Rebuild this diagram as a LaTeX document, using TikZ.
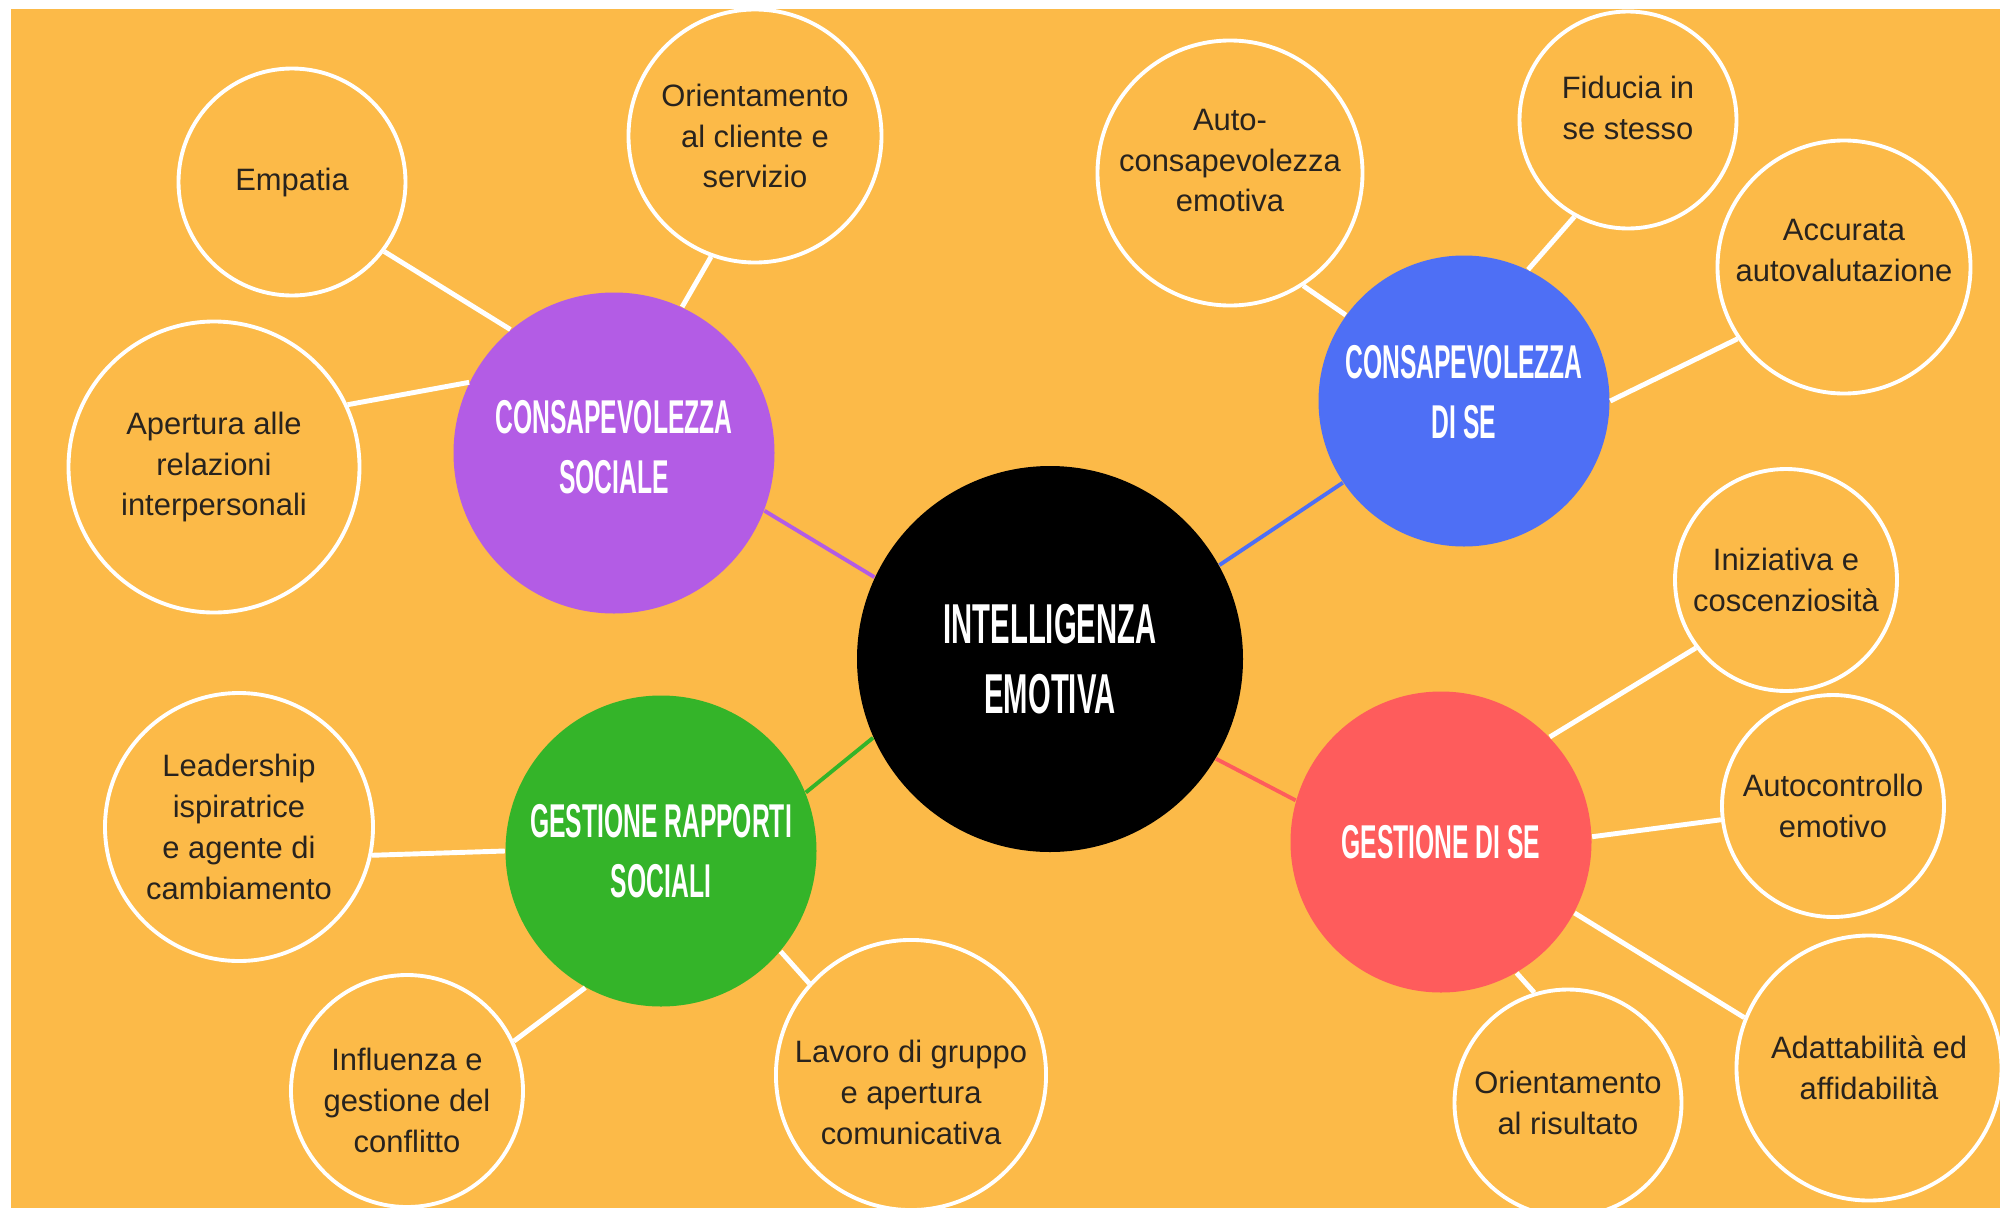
\documentclass[tikz,border=0pt]{standalone}
\usepackage{fontspec}
\setmainfont{Liberation Sans}
\newfontfamily\headfont{Liberation Sans Bold}[FakeStretch=0.52]
\usetikzlibrary{positioning}
\definecolor{bg}{RGB}{252,186,72}
\definecolor{viola}{RGB}{179,92,229}
\definecolor{blu}{RGB}{78,111,245}
\definecolor{verde}{RGB}{52,180,41}
\definecolor{rosso}{RGB}{254,92,92}
\definecolor{testo}{RGB}{40,35,30}
\newcommand\textlift[1]{\rule[-#1]{0pt}{#1}}
\newcommand\textdrop[1]{\rule{0pt}{#1}}

\begin{document}
\begin{tikzpicture}[font = \fontsize{8.8}{11.6}\selectfont,
    leaf/.style = {circle, draw = white, line width = 1.1pt, text = testo, align = center, inner sep = 0pt, minimum size = #1},
    hub/.style = {circle, fill = #1, text = white, align = center, inner sep = 0pt, font = \headfont\fontsize{13.5}{17}\selectfont},
    twig/.style = {white, line width = 1.4pt},
    stem/.style = {#1, line width = 1.1pt}]
    \useasboundingbox (0,0) rectangle (20,12.08);
    \clip (0,0) rectangle (20,12.08);
    \fill[white] (0,0) rectangle (20,12.08);
    \fill[bg] (0.11,0) rectangle (20,11.99);

    \node[hub = black, minimum size = 3.86cm, font = \headfont\fontsize{16}{19.8}\selectfont] (ie) at (10.50,5.49) {INTELLIGENZA\\EMOTIVA};
    \node[hub = viola, minimum size = 3.21cm] (social) at (6.14,7.55) {CONSAPEVOLEZZA\\SOCIALE\textlift{0.12cm}};
    \node[hub = blu, minimum size = 2.91cm] (self) at (14.64,8.07) {CONSAPEVOLEZZA\\DI SE\textlift{0.18cm}};
    \node[hub = verde, minimum size = 3.11cm] (rel) at (6.61,3.57) {GESTIONE RAPPORTI\\SOCIALI};
    \node[hub = rosso, minimum size = 3.01cm] (mgmt) at (14.41,3.66) {GESTIONE DI SE};

    \node[leaf = 2.27cm] (empatia) at (2.92,10.26) {Empatia};
    \node[leaf = 2.53cm] (cliente) at (7.55,10.72) {Orientamento\\al cliente e\\servizio};
    \node[leaf = 2.91cm] (apertura) at (2.14,7.41) {Apertura alle\\relazioni\\interpersonali};

    \node[leaf = 2.65cm] (autocons) at (12.30,10.35) {Auto-\\consapevolezza\\emotiva\textlift{0.25cm}};
    \node[leaf = 2.17cm] (fiducia) at (16.28,10.88) {Fiducia in\\se stesso\textlift{0.25cm}};
    \node[leaf = 2.53cm] (accurata) at (18.44,9.41) {Accurata\\autovalutazione\textlift{0.33cm}};

    \node[leaf = 2.68cm] (leader) at (2.39,3.81) {Leadership\\ispiratrice\\e agente di\\cambiamento};
    \node[leaf = 2.32cm] (influenza) at (4.07,1.17) {\textdrop{0.41cm}Influenza e\\gestione del\\conflitto};
    \node[leaf = 2.68cm] (lavoro) at (9.11,1.33) {\textdrop{0.57cm}Lavoro di gruppo\\e apertura\\comunicativa};

    \node[leaf = 2.22cm] (iniziativa) at (17.86,6.28) {Iniziativa e\\coscenziosità};
    \node[leaf = 2.22cm] (autocontrollo) at (18.33,4.02) {Autocontrollo\\emotivo};
    \node[leaf = 2.65cm] (adatta) at (18.69,1.40) {Adattabilità ed\\affidabilità};
    \node[leaf = 2.27cm] (risultato) at (15.68,1.05) {Orientamento\\al risultato};

    \draw[twig] (empatia.-37) -- (social.130);
    \draw[twig] (cliente.-110) -- (social.65);
    \draw[twig] (apertura.25) -- (social.154);
    \draw[stem = viola] (social.-21) -- (ie.155);

    \draw[twig] (autocons.-57) -- (self.144);
    \draw[twig] (fiducia.-119) -- (self.64);
    \draw[twig] (accurata.-146) -- (self.0);
    \draw[stem = blu] (self.-146) -- (ie.29);

    \draw[twig] (leader.-12) -- (rel.180);
    \draw[twig] (influenza.25) -- (rel.-119);
    \draw[twig] (lavoro.138) -- (rel.-40);
    \draw[stem = verde] (rel.22) -- (ie.-156);

    \draw[twig] (iniziativa.-143) -- (mgmt.44);
    \draw[twig] (autocontrollo.-173) -- (mgmt.2);
    \draw[twig] (adatta.158) -- (mgmt.-28);
    \draw[twig] (risultato.107) -- (mgmt.-60);
    \draw[stem = rosso] (mgmt.164) -- (ie.-31);
\end{tikzpicture}
\end{document}
